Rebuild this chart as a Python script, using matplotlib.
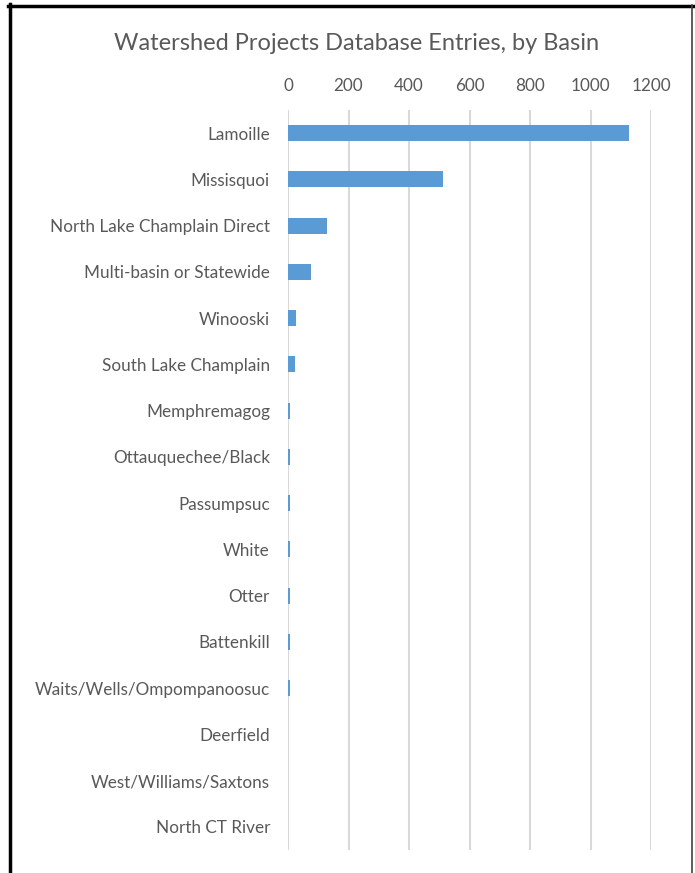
import matplotlib
matplotlib.use("Agg")
import matplotlib.pyplot as plt
from matplotlib.lines import Line2D

categories = ["Lamoille", "Missisquoi", "North Lake Champlain Direct",
              "Multi-basin or Statewide", "Winooski", "South Lake Champlain",
              "Memphremagog", "Ottauquechee/Black", "Passumpsuc", "White",
              "Otter", "Battenkill", "Waits/Wells/Ompompanoosuc", "Deerfield",
              "West/Williams/Saxtons", "North CT River"]
values = [1128, 513, 128, 75, 27, 22, 8, 8, 5, 5, 5, 5, 5, 0, 0, 0]
ticks = [0, 200, 400, 600, 800, 1000, 1200]
title = "Watershed Projects Database Entries, by Basin"

plt.rcParams["font.family"] = ["Lato", "DejaVu Sans"]

W, H = 695, 873
fig = plt.figure(figsize=(W / 100, H / 100), dpi=100)
fig.patch.set_facecolor("white")

left, right, top, bottom = 288, 651, 110, 850
ax = fig.add_axes([left / W, 1 - bottom / H, (right - left) / W, (bottom - top) / H])

ypos = list(range(len(categories)))
ax.barh(ypos, values, height=0.35, color="#5B9BD5", zorder=3)
ax.set_ylim(len(categories) - 0.5, -0.5)
ax.set_xlim(0, 1200)
ax.set_xticks(ticks)
ax.set_xticklabels([str(t) for t in ticks])
ax.set_yticks(ypos)
ax.set_yticklabels(categories)

ax.xaxis.tick_top()
ax.tick_params(axis="x", length=0, pad=11.5, labelsize=12.3, labelcolor="#595959")
ax.tick_params(axis="y", length=0, pad=13, labelsize=12.3, labelcolor="#595959")
for s in ax.spines.values():
    s.set_visible(False)
ax.grid(axis="x", color="#D9D9D9", linewidth=1.5, zorder=0)
ax.set_axisbelow(True)

fig.text(357 / W, 1 - 43 / H, title, ha="center", va="center",
         fontsize=17, color="#595959")

# outer frame
fig.add_artist(Line2D([9.5 / W, 9.5 / W], [0, 1 - 4 / H], color="black",
                      linewidth=2.5, transform=fig.transFigure))
fig.add_artist(Line2D([8 / W, 693.5 / W], [1 - 5.5 / H, 1 - 5.5 / H], color="black",
                      linewidth=2.5, transform=fig.transFigure))
fig.add_artist(Line2D([692 / W, 692 / W], [0, 1 - 5 / H], color="#404040",
                      linewidth=1.2, transform=fig.transFigure))

fig.savefig("out.png", dpi=100)
